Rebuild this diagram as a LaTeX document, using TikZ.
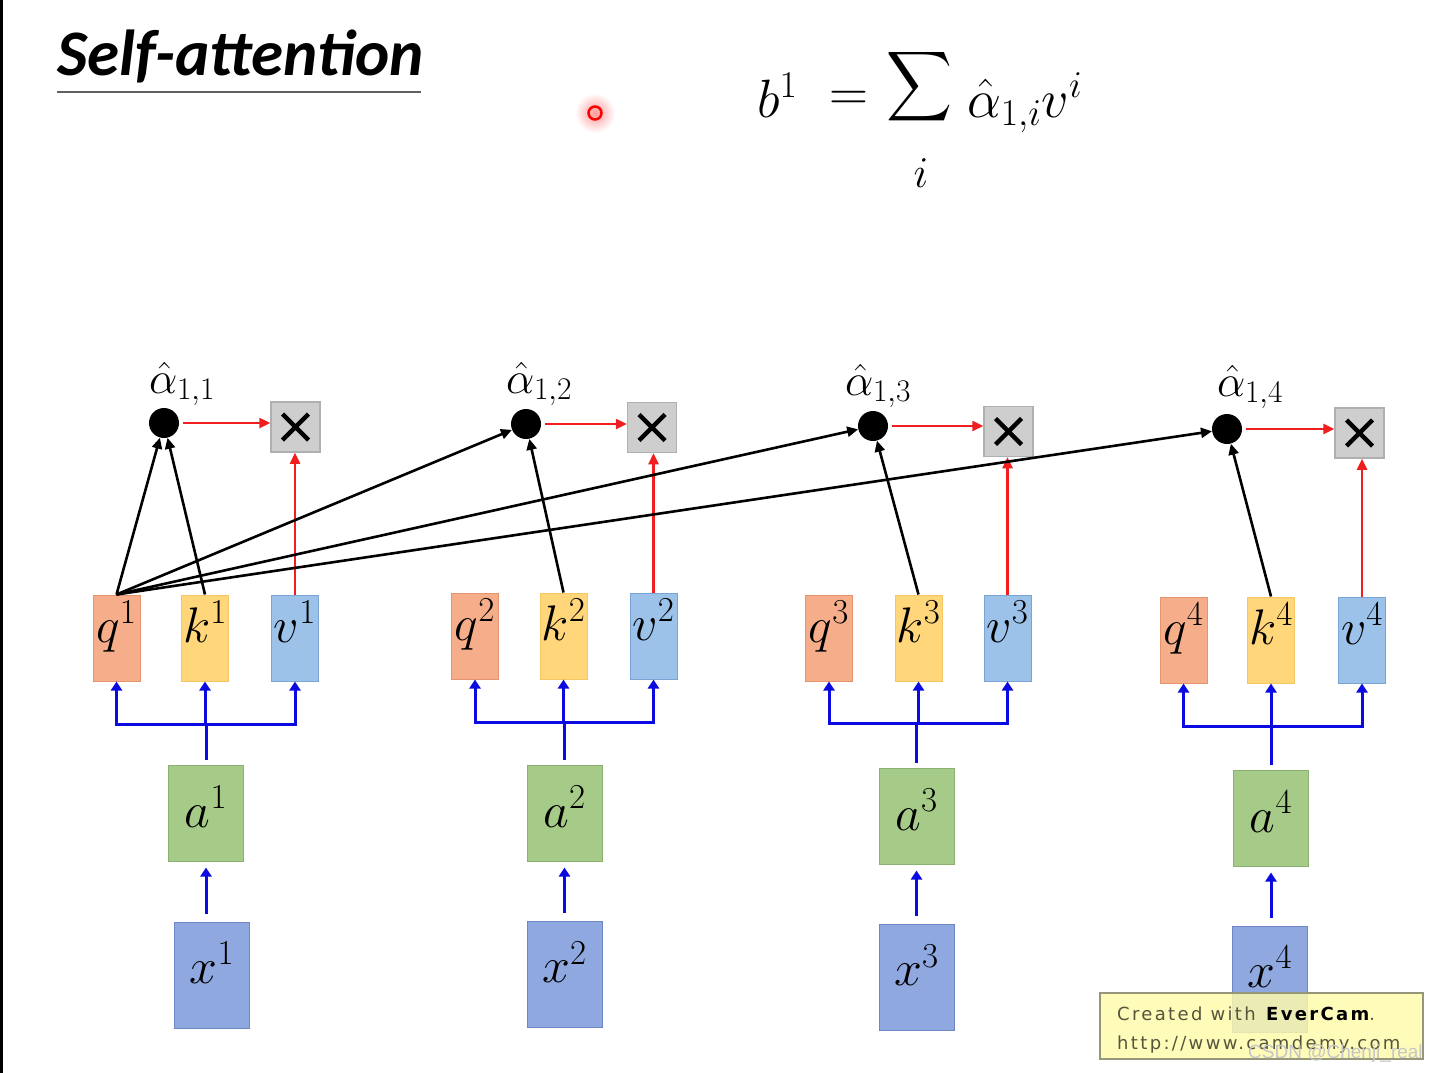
\documentclass[tikz,border=0pt]{standalone}
\usepackage{fix-cm}
\usepackage{graphicx}
\usepackage{fontspec}
\newfontfamily\titlefont{Carlito}
\newfontfamily\wmfont[LetterSpace=13]{DejaVu Sans}
\newfontfamily\csdnfont{Liberation Sans}
\usetikzlibrary{arrows.meta}
\definecolor{qfill}{RGB}{246,174,138}
\definecolor{qdraw}{RGB}{230,148,110}
\definecolor{kfill}{RGB}{255,214,122}
\definecolor{kdraw}{RGB}{246,198,98}
\definecolor{vfill}{RGB}{156,194,234}
\definecolor{vdraw}{RGB}{122,164,212}
\definecolor{afill}{RGB}{166,203,137}
\definecolor{adraw}{RGB}{138,176,114}
\definecolor{xfill}{RGB}{144,168,224}
\definecolor{xdraw}{RGB}{110,134,198}
\definecolor{mfill}{RGB}{206,206,206}
\definecolor{mdraw}{RGB}{176,176,176}
\definecolor{redc}{RGB}{240,30,30}
\definecolor{bluec}{RGB}{10,10,225}
\definecolor{wmfill}{RGB}{255,251,170}
\definecolor{wmborder}{RGB}{150,150,120}
\definecolor{wmtext}{RGB}{85,85,60}
\begin{document}
\begin{tikzpicture}[x=1pt,y=-1pt,
  box/.style={draw, line width=1pt, inner sep=0pt, font=\fontsize{50}{50}\selectfont},
  qkv/.style={box, minimum width=47pt, minimum height=86pt, text height=24pt, text depth=16pt},
  qbox/.style={qkv, fill=qfill, draw=qdraw},
  kbox/.style={qkv, fill=kfill, draw=kdraw},
  vbox/.style={qkv, fill=vfill, draw=vdraw},
  abox/.style={box, fill=afill, draw=adraw, minimum width=75pt, minimum height=96pt, text height=34pt, text depth=6pt},
  xbox/.style={box, fill=xfill, draw=xdraw, minimum width=75pt, minimum height=106pt, text height=26pt, text depth=10pt},
  dotn/.style={circle, fill=black, minimum size=30pt, inner sep=0pt},
  mul/.style={draw=mdraw, fill=mfill, line width=1.5pt, minimum width=49pt, minimum height=50pt, inner sep=0pt,
    path picture={\draw[black, line width=4.5pt]
      ([shift={(-13pt,-13pt)}]path picture bounding box.center) -- ([shift={(13pt,13pt)}]path picture bounding box.center)
      ([shift={(-13pt,13pt)}]path picture bounding box.center) -- ([shift={(13pt,-13pt)}]path picture bounding box.center);}},
  lab/.style={anchor=base, inner sep=0pt, font=\fontsize{45}{45}\selectfont},
  attn/.style={black, line width=2.6pt, -{Triangle[length=11pt,width=10pt]}},
  redarr/.style={draw=redc, line width=2.4pt, -{Triangle[length=11pt,width=10pt]}},
  blueline/.style={draw=bluec, line width=3pt},
  bluearr/.style={draw=bluec, line width=3pt, -{Triangle[length=9pt,width=11pt]}},
  eq/.style={inner sep=0pt, font=\fontsize{54}{54}\selectfont}
]
\useasboundingbox (0,0) rectangle (1435,1073);
\fill[white] (0,0) rectangle (1435,1073);
\fill[black] (0,0) rectangle (3,1073);

% title
\node[anchor=base west, inner sep=0pt, font=\titlefont\bfseries\itshape\fontsize{65}{65}\selectfont] (title) at (57,75) {Self-attention};
\draw[gray!75!black, line width=2.5pt] (57,92) -- (421,92);

% laser pointer
\shade[inner color=red!40, outer color=white] (595,113) circle (20pt);
\draw[red, line width=2.5pt] (595,113) circle (6.5pt);

% formula
\node[eq, anchor=base west] (eqb) at (757,117) {$b^{1}$};
\node[eq] (eqeq) at (849,101) {$=$};
\node[eq] (eqsum) at (920,100) {\resizebox{66pt}{105pt}{$\displaystyle\sum$}};
\node[eq, anchor=base, font=\fontsize{44}{44}\selectfont] (eqi) at (921,187) {$i$};
\node[eq, anchor=base west] (eqa) at (967,117) {$\hat{\alpha}_{1,i}v^{i}$};

% column 1
\node[qbox] (q1) at (116.5,638) {$q^{1}$};
\node[kbox] (k1) at (205,638) {$k^{1}$};
\node[vbox] (v1) at (295,638) {$v^{1}$};
\node[dotn] (d1) at (164,423) {};
\node[mul] (m1) at (295.5,427) {};
\node[abox] (a1) at (206,813) {$a^{1}$};
\node[xbox] (x1) at (212,975) {$x^{1}$};
\node[lab] (l1) at (182,393) {$\hat{\alpha}_{1,1}$};
\coordinate (j1) at (205,724);

% column 2
\node[qbox] (q2) at (475,636) {$q^{2}$};
\node[kbox] (k2) at (563.5,636) {$k^{2}$};
\node[vbox] (v2) at (653.5,636) {$v^{2}$};
\node[dotn] (d2) at (526,424) {};
\node[mul] (m2) at (652,427.5) {};
\node[abox] (a2) at (564.5,813) {$a^{2}$};
\node[xbox] (x2) at (564.5,974.5) {$x^{2}$};
\node[lab] (l2) at (539,393) {$\hat{\alpha}_{1,2}$};
\coordinate (j2) at (563.5,722);

% column 3
\node[qbox] (q3) at (829,638) {$q^{3}$};
\node[kbox] (k3) at (918.5,638) {$k^{3}$};
\node[vbox] (v3) at (1007.5,638) {$v^{3}$};
\node[dotn] (d3) at (873,426) {};
\node[mul] (m3) at (1008.5,431.5) {};
\node[abox] (a3) at (916.5,816) {$a^{3}$};
\node[xbox] (x3) at (916.5,977.5) {$x^{3}$};
\node[lab] (l3) at (878,395) {$\hat{\alpha}_{1,3}$};
\coordinate (j3) at (918.5,723);

% column 4
\node[qbox] (q4) at (1183.5,640) {$q^{4}$};
\node[kbox] (k4) at (1271,640) {$k^{4}$};
\node[vbox] (v4) at (1362,640) {$v^{4}$};
\node[dotn] (d4) at (1227,429) {};
\node[mul] (m4) at (1359.5,433) {};
\node[abox] (a4) at (1271,818) {$a^{4}$};
\node[xbox] (x4) at (1270,979) {$x^{4}$};
\node[lab] (l4) at (1250,396) {$\hat{\alpha}_{1,4}$};
\coordinate (j4) at (1271,726);

% connectors
\foreach \i in {1,2,3,4} {
  \draw[attn] (q1.north) -- (d\i);
  \draw[attn] (k\i.north) -- (d\i);
  \draw[redarr, shorten <=4pt] (d\i.east) -- (m\i.west |- d\i.east);
  \draw[redarr] (v\i.north) -- (v\i.north |- m\i.south);
  \draw[blueline] ([yshift=5pt]a\i.north) -- (a\i.north |- j\i);
  \draw[bluearr] (j\i) -| (q\i.south);
  \draw[bluearr] (j\i) -| (v\i.south);
  \draw[bluearr] (j\i) -- (k\i.south |- j\i) -- (k\i.south);
  \draw[bluearr, shorten <=8pt, shorten >=6pt] (a\i.south |- x\i.north) -- (a\i.south);
}

% watermark
\node[draw=wmborder, line width=1.5pt, fill=wmfill, fill opacity=0.82, minimum width=323pt, minimum height=66pt, inner sep=0pt] (wm) at (1261.5,1026) {};
\node[anchor=base west, inner sep=0pt, text=wmtext, font=\wmfont\fontsize{18}{18}\selectfont] (wm1) at (1117,1020) {Created with \textbf{\color{black}EverCam}.};
\node[anchor=base west, inner sep=0pt, text=wmtext, font=\wmfont\fontsize{18}{18}\selectfont] (wm2) at (1117,1049) {http://www.camdemy.com};
\node[anchor=base west, inner sep=0pt, text=gray!45, font=\csdnfont\fontsize{19}{19}\selectfont] (csdn) at (1248,1058) {CSDN @Chenji\_real};
\end{tikzpicture}
\end{document}
